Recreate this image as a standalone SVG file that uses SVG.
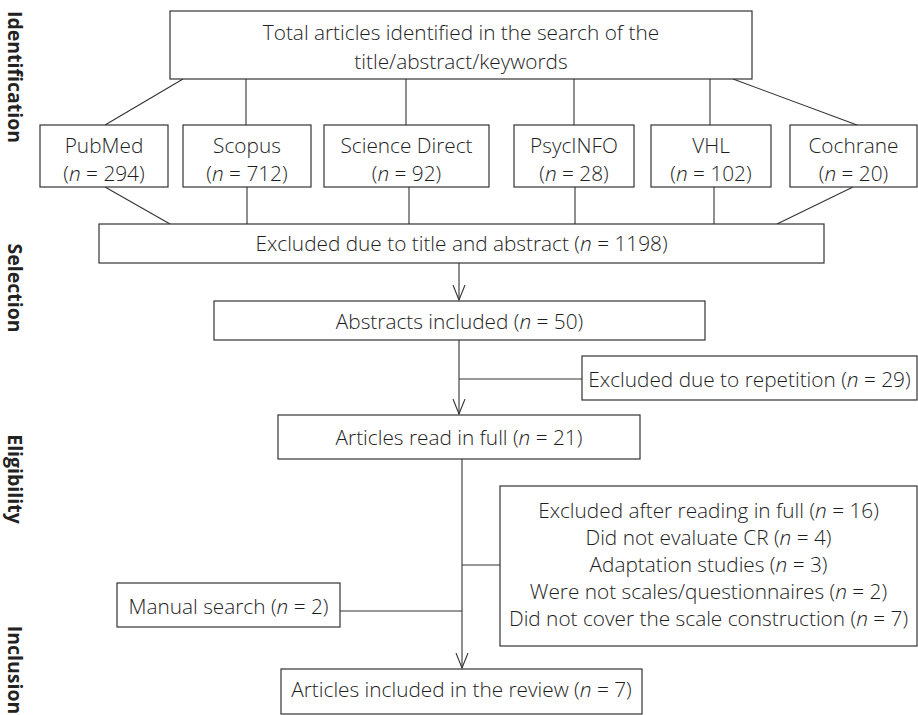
<svg xmlns="http://www.w3.org/2000/svg" width="918" height="715" viewBox="0 0 918 715">
<style>
.box{fill:#fff;stroke:#333;stroke-width:1.2}
.t{font-family:"Open Sans","Noto Sans",sans-serif;font-size:20.8px;fill:#1e1e1e;text-anchor:middle;font-weight:300}
.i{font-style:italic}
.side{font-family:"Open Sans","Noto Sans",sans-serif;font-size:19.5px;font-weight:700;fill:#222;text-anchor:middle}
.c{stroke:#333;stroke-width:1.1;fill:none}
</style>
<defs>
<marker id="arr" viewBox="0 0 16 14" refX="15" refY="7" markerWidth="16" markerHeight="14" markerUnits="userSpaceOnUse" orient="auto">
<path d="M0,1 L15,7 L0,13" fill="none" stroke="#333" stroke-width="1.1"/>
</marker>
</defs>
<rect width="918" height="715" fill="#fff"/>
<g id="side-labels">
<text class="side" transform="translate(15,77) rotate(90)" dy="7">Identification</text>
<text class="side" transform="translate(15,288) rotate(90)" dy="7">Selection</text>
<text class="side" transform="translate(15,479) rotate(90)" dy="7">Eligibility</text>
<text class="side" transform="translate(15,670) rotate(90)" dy="7">Inclusion</text>
</g>
<g id="connectors">
<line class="c" x1="183" y1="79" x2="105" y2="125"/>
<line class="c" x1="246" y1="79" x2="246" y2="125"/>
<line class="c" x1="406" y1="79" x2="406" y2="125"/>
<line class="c" x1="574" y1="79" x2="574" y2="125"/>
<line class="c" x1="710" y1="79" x2="710" y2="125"/>
<line class="c" x1="733" y1="79" x2="857" y2="125"/>
<line class="c" x1="105" y1="187" x2="170" y2="224"/>
<line class="c" x1="247" y1="187" x2="247" y2="224"/>
<line class="c" x1="409" y1="187" x2="409" y2="224"/>
<line class="c" x1="575" y1="187" x2="575" y2="224"/>
<line class="c" x1="714" y1="187" x2="714" y2="224"/>
<line class="c" x1="853" y1="187" x2="777" y2="224"/>
<line class="c" x1="459" y1="263" x2="459" y2="300" marker-end="url(#arr)"/>
<line class="c" x1="459" y1="340" x2="459" y2="414" marker-end="url(#arr)"/>
<line class="c" x1="459" y1="379" x2="582" y2="379"/>
<line class="c" x1="462" y1="459" x2="462" y2="668" marker-end="url(#arr)"/>
<line class="c" x1="462" y1="565" x2="500" y2="565"/>
<line class="c" x1="340" y1="611" x2="462" y2="611"/>
</g>
<g id="n-total">
<rect class="box" x="170" y="11" width="582" height="68"/>
<text class="t" x="461" y="40">Total articles identified in the search of the</text>
<text class="t" x="461" y="69">title/abstract/keywords</text>
</g>
<g id="n-pubmed">
<rect class="box" x="40" y="125" width="128" height="62"/>
<text class="t" x="104" y="153">PubMed</text>
<text class="t" x="104" y="181">(<tspan class="i">n</tspan> = 294)</text>
</g>
<g id="n-scopus">
<rect class="box" x="183" y="125" width="128" height="62"/>
<text class="t" x="247" y="153">Scopus</text>
<text class="t" x="247" y="181">(<tspan class="i">n</tspan> = 712)</text>
</g>
<g id="n-sciencedirect">
<rect class="box" x="324" y="125" width="165" height="62"/>
<text class="t" x="406.5" y="153">Science Direct</text>
<text class="t" x="406.5" y="181">(<tspan class="i">n</tspan> = 92)</text>
</g>
<g id="n-psycinfo">
<rect class="box" x="514" y="125" width="120" height="62"/>
<text class="t" x="574" y="153">PsycINFO</text>
<text class="t" x="574" y="181">(<tspan class="i">n</tspan> = 28)</text>
</g>
<g id="n-vhl">
<rect class="box" x="651" y="125" width="120" height="62"/>
<text class="t" x="711" y="153">VHL</text>
<text class="t" x="711" y="181">(<tspan class="i">n</tspan> = 102)</text>
</g>
<g id="n-cochrane">
<rect class="box" x="790" y="125" width="127" height="62"/>
<text class="t" x="853.5" y="153">Cochrane</text>
<text class="t" x="853.5" y="181">(<tspan class="i">n</tspan> = 20)</text>
</g>
<g id="n-excluded-title">
<rect class="box" x="99" y="224" width="725" height="39"/>
<text class="t" x="461.5" y="251">Excluded due to title and abstract (<tspan class="i">n</tspan> = 1198)</text>
</g>
<g id="n-abstracts">
<rect class="box" x="214" y="301" width="491" height="39"/>
<text class="t" x="459.5" y="329">Abstracts included (<tspan class="i">n</tspan> = 50)</text>
</g>
<g id="n-excluded-rep">
<rect class="box" x="582" y="356" width="335" height="44"/>
<text class="t" x="749.5" y="387">Excluded due to repetition (<tspan class="i">n</tspan> = 29)</text>
</g>
<g id="n-read-full">
<rect class="box" x="278" y="415" width="362" height="44"/>
<text class="t" x="459" y="445">Articles read in full (<tspan class="i">n</tspan> = 21)</text>
</g>
<g id="n-excluded-full">
<rect class="box" x="500" y="486" width="417" height="160"/>
<text class="t" x="708.5" y="518">Excluded after reading in full (<tspan class="i">n</tspan> = 16)</text>
<text class="t" x="708.5" y="545">Did not evaluate CR (<tspan class="i">n</tspan> = 4)</text>
<text class="t" x="708.5" y="572">Adaptation studies (<tspan class="i">n</tspan> = 3)</text>
<text class="t" x="708.5" y="599">Were not scales/questionnaires (<tspan class="i">n</tspan> = 2)</text>
<text class="t" x="708.5" y="626">Did not cover the scale construction (<tspan class="i">n</tspan> = 7)</text>
</g>
<g id="n-manual">
<rect class="box" x="117" y="583" width="223" height="44"/>
<text class="t" x="228.5" y="614">Manual search (<tspan class="i">n</tspan> = 2)</text>
</g>
<g id="n-included">
<rect class="box" x="281" y="669" width="361" height="45"/>
<text class="t" x="461.5" y="697">Articles included in the review (<tspan class="i">n</tspan> = 7)</text>
</g>
</svg>
